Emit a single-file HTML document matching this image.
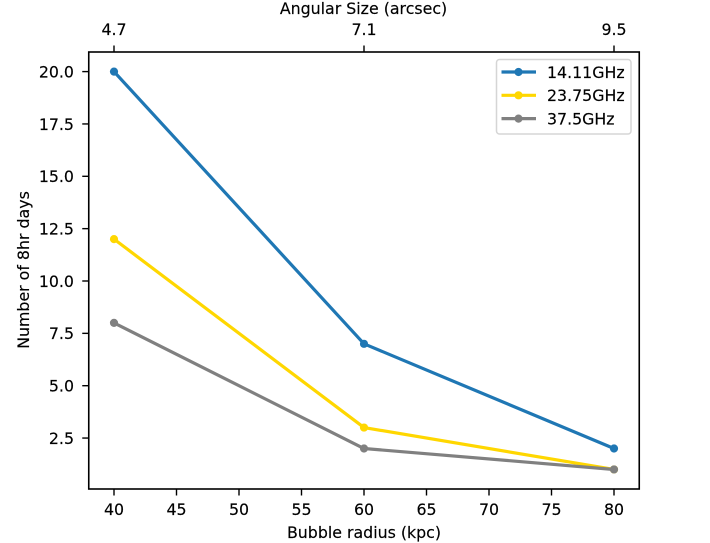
<!DOCTYPE html>
<html>
<head>
<meta charset="utf-8">
<style>
html,body{margin:0;padding:0;background:#fff;}
svg{display:block;}
text{font-family:"DejaVu Sans","Liberation Sans",sans-serif;font-size:15.8px;fill:#000;stroke:#000;stroke-width:0.15px;}
</style>
</head>
<body>
<svg id="chart" width="710" height="543" viewBox="0 0 710 543" xmlns="http://www.w3.org/2000/svg"></svg>
<script>
const radiusValues = [40, 60, 80];
const series141 = [20, 7, 2];
const series2375 = [12, 3, 1];
const series375 = [8, 2, 1];
const xTickLabels = [40, 45, 50, 55, 60, 65, 70, 75, 80];
const yTickLabels = ["2.5", "5.0", "7.5", "10.0", "12.5", "15.0", "17.5", "20.0"];
const topTickValues = [40, 60, 80];
const topTickLabels = ["4.7", "7.1", "9.5"];
const seriesNames = ["14.11GHz", "23.75GHz", "37.5GHz"];

const svg = document.getElementById('chart');
const NS = 'http://www.w3.org/2000/svg';
const L = 88.75, R = 639.25, T = 52, B = 489;
function xPos(v){ return 114 + (v - 40) * 12.5; }
function yPos(v){ return 71.6 + (20 - v) * 20.94; }
function mk(tag, attrs, text){
  const el = document.createElementNS(NS, tag);
  for (const k in attrs) el.setAttribute(k, attrs[k]);
  if (text !== undefined) el.textContent = text;
  svg.appendChild(el);
  return el;
}
const colors = ["#1f77b4", "#ffd700", "#808080"];
const allSeries = [series141, series2375, series375];

allSeries.forEach(function(vals, i){
  const pts = vals.map(function(v, j){ return xPos(radiusValues[j]) + ',' + yPos(v); }).join(' ');
  const line = mk('polyline', {points: pts, fill: 'none', stroke: colors[i], 'stroke-width': 3.2, 'stroke-linejoin': 'round', 'stroke-linecap': 'square'});
  
  
  vals.forEach(function(v, j){
    const c = mk('circle', {cx: xPos(radiusValues[j]), cy: yPos(v), r: 4.1, fill: colors[i]});
    
    
  });
});

const frame = mk('rect', {x: L, y: T, width: R - L, height: B - T, fill: 'none', stroke: '#000', 'stroke-width': 1.6});



xTickLabels.forEach(function(v){
  const x = xPos(v);
  const t = mk('line', {x1: x, x2: x, y1: B, y2: B + 6.5, stroke: '#000', 'stroke-width': 1.4});
  
  
  const l = mk('text', {x: x, y: 515, 'text-anchor': 'middle'}, v);
  
  
});

yTickLabels.forEach(function(s){
  const y = yPos(parseFloat(s));
  const t = mk('line', {x1: L - 6.5, x2: L, y1: y, y2: y, stroke: '#000', 'stroke-width': 1.4});
  
  
  const l = mk('text', {x: 74, y: y + 5.8, 'text-anchor': 'end'}, s);
  
  
});

topTickValues.forEach(function(v, i){
  const x = xPos(v);
  const t = mk('line', {x1: x, x2: x, y1: T - 6.5, y2: T, stroke: '#000', 'stroke-width': 1.4});
  
  
  const l = mk('text', {x: x, y: 35, 'text-anchor': 'middle'}, topTickLabels[i]);
  
  
});

const xTitle = mk('text', {x: 364, y: 538, 'text-anchor': 'middle'}, 'Bubble radius (kpc)');



const topTitle = mk('text', {x: 363.5, y: 14, 'text-anchor': 'middle'}, 'Angular Size (arcsec)');



const yTitle = mk('text', {x: 0, y: 0, 'text-anchor': 'middle', transform: 'translate(29,270) rotate(-90)'}, 'Number of 8hr days');



const legendBox = mk('rect', {x: 496.5, y: 59.5, width: 134.5, height: 74.5, rx: 3, ry: 3, fill: '#fff', 'fill-opacity': 0.8, stroke: '#d5d5d5', 'stroke-width': 1.5});



seriesNames.forEach(function(name, i){
  const y = 72 + i * 23.3;
  const ln = mk('line', {x1: 501.5, x2: 536, y1: y, y2: y, stroke: colors[i], 'stroke-width': 3.2});
  
  
  const m = mk('circle', {cx: 518.5, cy: y, r: 4.1, fill: colors[i]});
  
  
  const l = mk('text', {x: 547, y: y + 5.8}, name);
  
  
});
</script>
</body>
</html>
